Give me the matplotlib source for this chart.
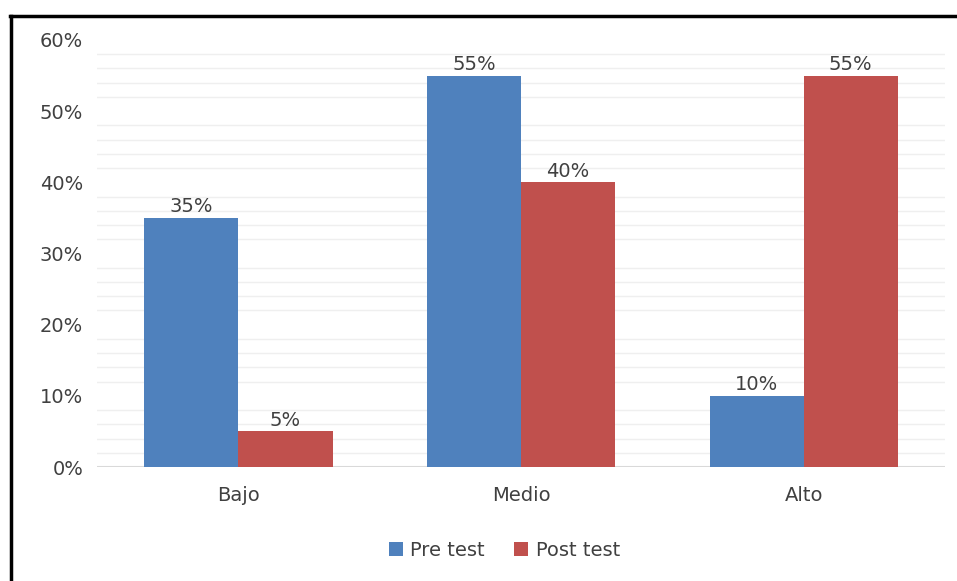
import matplotlib
matplotlib.use("Agg")
import matplotlib.pyplot as plt
from matplotlib.lines import Line2D
import numpy as np

categories = ["Bajo", "Medio", "Alto"]
pre_test = [35, 55, 10]
post_test = [5, 40, 55]
series_names = ["Pre test", "Post test"]
y_ticks = [0, 10, 20, 30, 40, 50, 60]
y_tick_labels = ["0%", "10%", "20%", "30%", "40%", "50%", "60%"]

blue = "#4F81BD"
red = "#C0504D"
plt.rcParams["font.family"] = ["DejaVu Sans"]
fs = 14

fig = plt.figure(figsize=(9.57, 5.81), dpi=100)
ax = fig.add_axes([0.1014, 0.1962, 0.8861, 0.7350])

x = np.arange(len(categories))
w = 0.333
b1 = ax.bar(x - w / 2, pre_test, w, color=blue, label=series_names[0], zorder=3)
b2 = ax.bar(x + w / 2, post_test, w, color=red, label=series_names[1], zorder=3)

for bars, vals in ((b1, pre_test), (b2, post_test)):
    for rect, v in zip(bars, vals):
        ax.text(rect.get_x() + rect.get_width() / 2, v + 0.2, f"{v}%",
                ha="center", va="bottom", fontsize=fs, color="#404040")

ax.set_xlim(-0.5, 2.5)
ax.set_ylim(0, 60)
ax.set_yticks(y_ticks)
ax.set_yticklabels(y_tick_labels)
ax.set_xticks(x)
ax.set_xticklabels(categories)

# faint minor gridlines
for yv in np.arange(2, 60, 2):
    if yv % 10 != 0:
        ax.axhline(yv, color="#EFEFEF", lw=1.0, zorder=1)
ax.axhline(0, color="#D9D9D9", lw=1.5, zorder=2)

for s in ax.spines.values():
    s.set_visible(False)
ax.tick_params(axis="both", length=0, labelsize=fs, colors="#404040")
ax.tick_params(axis="y", pad=10)
ax.tick_params(axis="x", pad=14)

leg = fig.legend(loc="center", bbox_to_anchor=(0.527, 0.053), ncol=2, frameon=False,
                 fontsize=fs, handlelength=0.72, handleheight=0.72, handletextpad=0.4,
                 columnspacing=1.5)
for t in leg.get_texts():
    t.set_color("#404040")

# frame border: top and left lines
fig.add_artist(Line2D([10 / 957, 1.0], [1 - 15.5 / 581, 1 - 15.5 / 581], color="black", lw=2.5,
                      transform=fig.transFigure))
fig.add_artist(Line2D([10.5 / 957, 10.5 / 957], [0, 1 - 15.5 / 581], color="black", lw=2.5,
                      transform=fig.transFigure))

fig.savefig("out.png", dpi=100)
